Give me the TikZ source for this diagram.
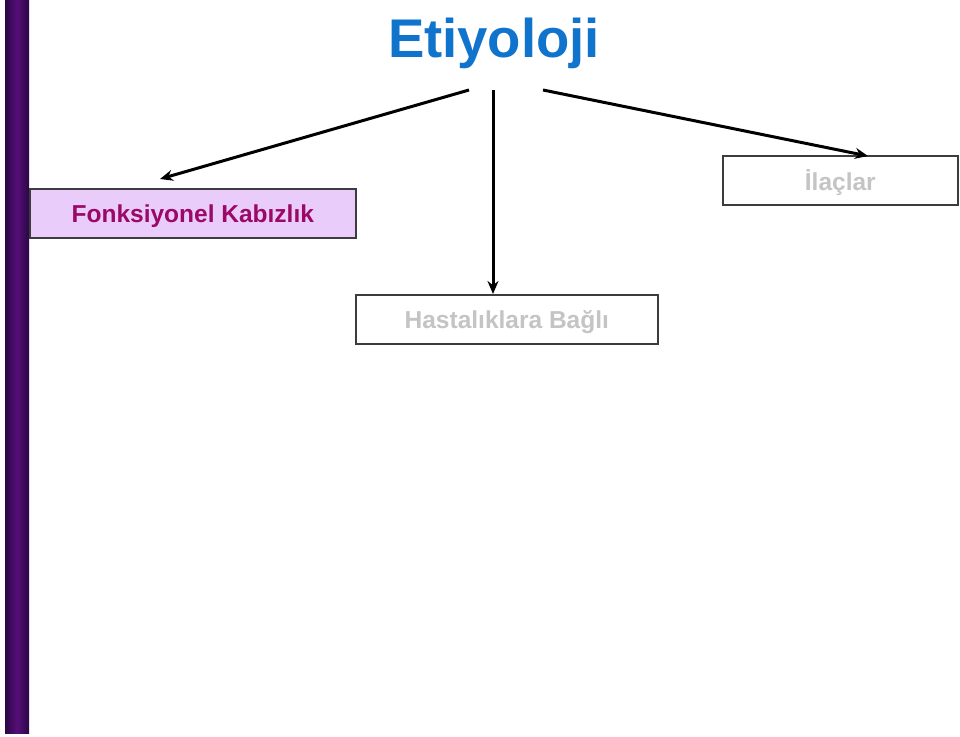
\documentclass[tikz,border=0pt]{standalone}
\usepackage{fontspec}
\setmainfont{Liberation Sans}
\usetikzlibrary{arrows.meta}
\definecolor{bardark}{HTML}{2A0845}
\definecolor{barmid}{HTML}{560E78}
\definecolor{fkfill}{HTML}{E9CCFA}
\definecolor{fktext}{HTML}{9A0868}
\definecolor{titleblue}{HTML}{1174CC}
\definecolor{greytext}{HTML}{C4C4C4}
\definecolor{boxline}{HTML}{3C3C3C}
\tikzset{
  boxnode/.style={draw=boxline, line width=1.6pt, minimum height=49pt, inner sep=0pt, text depth=0pt, font=\bfseries\fontsize{24.5}{28}\selectfont, anchor=north west},
  conn/.style={line width=3pt, -{Stealth[length=13pt,width=11pt]}},
}
\begin{document}
\begin{tikzpicture}[x=1pt,y=-1pt]
\useasboundingbox (0,0) rectangle (960,736);
\fill[white] (0,0) rectangle (960,736);
% left bar
\shade[left color=bardark, right color=bardark, middle color=barmid] (5,0) rectangle (29,733);
% title
\node[font=\bfseries\fontsize{54.5}{60}\selectfont, text=titleblue] (title) at (494,43) {Etiyoloji};
% boxes
\node[boxnode, fill=fkfill, text=fktext, minimum width=326pt] (fk) at (29,188) {Fonksiyonel Kabızlık};
\node[boxnode, fill=white, text=greytext, minimum width=235pt] (il) at (722,155) {İlaçlar};
\node[boxnode, fill=white, text=greytext, minimum width=302pt] (hb) at (355,294) {Hastalıklara Bağlı};
% connector endpoints
\coordinate (s1) at (469,90);
\coordinate (s2) at (493,90);
\coordinate (s3) at (543,90);
\coordinate (e1) at (160,179);
\coordinate (e2) at (493,294);
\coordinate (e3) at (868,156);
\draw[conn] (s1) -- (e1);
\draw[conn] (s2) -- (e2);
\draw[conn] (s3) -- (e3);
\end{tikzpicture}
\end{document}
